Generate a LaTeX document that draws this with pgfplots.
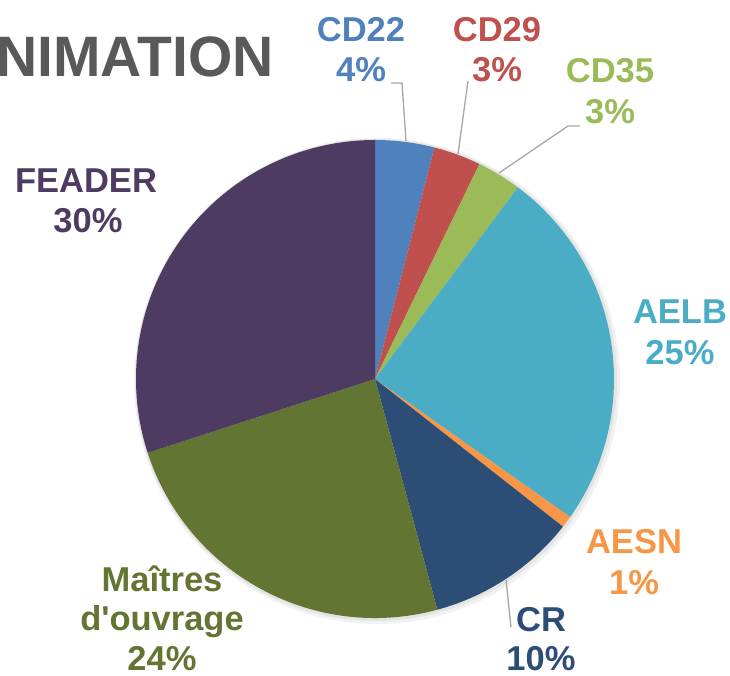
\documentclass[border=0pt]{standalone}
\usepackage{fontspec}
\setmainfont{Liberation Sans}
\usepackage{pgfplots}
\usepackage{pgfplotstable}
\pgfplotsset{compat=1.18}
\definecolor{s0}{HTML}{4F81BD}
\definecolor{s1}{HTML}{C0504D}
\definecolor{s2}{HTML}{9BBB59}
\definecolor{s3}{HTML}{4BACC6}
\definecolor{s4}{HTML}{F79646}
\definecolor{s5}{HTML}{2C4D75}
\definecolor{s6}{HTML}{627532}
\definecolor{s7}{HTML}{4D3B62}
\definecolor{titlegray}{HTML}{595959}
\definecolor{leader}{HTML}{A6A6A6}

\pgfplotstableread[col sep=comma]{
label,value
CD22,4.0
CD29,3.2
CD35,3.0
AELB,24.6
AESN,0.8
CR,10.2
Maitres,24.2
FEADER,30.0
}\piedata

\newcommand\lbl{\fontsize{34.5}{40}\selectfont\bfseries}

\begin{document}
\begin{tikzpicture}
\begin{axis}[hide axis, scale only axis, width=730pt, height=676pt,
  xmin=0, xmax=730, ymin=0, ymax=676, clip=false]
\coordinate (bl) at (axis cs:0,0);
\coordinate (tr) at (axis cs:730,676);
% soft shadow
\fill[black,opacity=0.05] (axis cs:377,295) circle[radius=243pt];
\fill[black,opacity=0.06] (axis cs:376,296) circle[radius=241pt];
% slices
\gdef\cum{0}
\foreach \i in {0,...,7}{
  \pgfplotstablegetelem{\i}{value}\of{\piedata}
  \let\val\pgfplotsretval
  \pgfmathsetmacro{\aA}{90-3.6*\cum}
  \pgfmathsetmacro{\newcum}{\cum+\val}
  \pgfmathsetmacro{\aB}{90-3.6*\newcum}
  \xdef\cum{\newcum}
  \edef\temp{\noexpand\fill[s\i] (axis cs:375,297) -- ([shift={(\aA:239pt)}]axis cs:375,297) arc[start angle=\aA, end angle=\aB, radius=239pt] -- cycle;}
  \temp
}
% leader lines
\draw[leader, line width=1.3pt] (axis cs:391,593) -- (axis cs:402,593) -- (axis cs:406,535);
\draw[leader, line width=1.3pt] (axis cs:468,595) -- (axis cs:458,522);
\draw[leader, line width=1.3pt] (axis cs:580,550) -- (axis cs:568,550) -- (axis cs:499,503);
\draw[leader, line width=1.3pt] (axis cs:506,96) -- (axis cs:511,49);
% labels
\node[anchor=base, inner sep=0, text=s0, font=\lbl] at (axis cs:361,634) {CD22};
\node[anchor=base, inner sep=0, text=s0, font=\lbl] at (axis cs:361,594) {4\%};
\node[anchor=base, inner sep=0, text=s1, font=\lbl] at (axis cs:497,634) {CD29};
\node[anchor=base, inner sep=0, text=s1, font=\lbl] at (axis cs:497,594) {3\%};
\node[anchor=base, inner sep=0, text=s2, font=\lbl] at (axis cs:610,593) {CD35};
\node[anchor=base, inner sep=0, text=s2, font=\lbl] at (axis cs:610,552) {3\%};
\node[anchor=base, inner sep=0, text=s3, font=\lbl] at (axis cs:680,352) {AELB};
\node[anchor=base, inner sep=0, text=s3, font=\lbl] at (axis cs:680,311) {25\%};
\node[anchor=base, inner sep=0, text=s4, font=\lbl] at (axis cs:634,122) {AESN};
\node[anchor=base, inner sep=0, text=s4, font=\lbl] at (axis cs:634,81) {1\%};
\node[anchor=base, inner sep=0, text=s5, font=\lbl] at (axis cs:541,44) {CR};
\node[anchor=base, inner sep=0, text=s5, font=\lbl] at (axis cs:541,5) {10\%};
\node[anchor=base, inner sep=0, text=s6, font=\lbl] at (axis cs:162,84) {Maîtres};
\node[anchor=base, inner sep=0, text=s6, font=\lbl] at (axis cs:162,45) {d\textquotesingle ouvrage};
\node[anchor=base, inner sep=0, text=s6, font=\lbl] at (axis cs:162,5) {24\%};
\node[anchor=base, inner sep=0, text=s7, font=\lbl] at (axis cs:86,483) {FEADER};
\node[anchor=base, inner sep=0, text=s7, font=\lbl] at (axis cs:88,443) {30\%};
% title (cropped at left edge, as in the reference)
\node[anchor=base east, inner sep=0, text=titlegray, font=\fontsize{57}{60}\selectfont\bfseries] at (axis cs:274,599) {ANIMATION};
\end{axis}
\pgfresetboundingbox
\path[use as bounding box] (bl) rectangle (tr);
\end{tikzpicture}
\end{document}
